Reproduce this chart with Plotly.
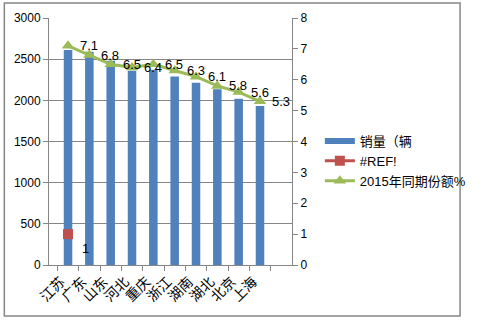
import plotly.graph_objects as go

# Provinces (x categories)
provinces = ["江苏", "广东", "山东", "河北", "重庆", "浙江", "湖南", "湖北", "北京", "上海"]
# Sales volume (left axis)
sales = [2610, 2590, 2480, 2360, 2370, 2290, 2215, 2135, 2020, 1930]
# Share in the same period of 2015, % (right axis)
share_2015 = [7.1, 6.8, 6.5, 6.4, 6.5, 6.3, 6.1, 5.8, 5.6, 5.3]
# Broken reference series: a single value on the right axis
ref_x = ["江苏"]
ref_values = [1]

BLUE = "#4F81BD"
RED = "#C0504D"
GREEN = "#9BBB59"
GRID = "#868686"
FONT = "Liberation Sans, Noto Sans CJK SC, sans-serif"

fig = go.Figure()

fig.add_trace(go.Bar(
    x=provinces, y=sales, name="销量（辆",
    marker=dict(color=BLUE, line=dict(width=0)),
    showlegend=False,
))
# legend entry for the bars, drawn as a wide band like the spreadsheet legend
fig.add_trace(go.Scatter(
    x=[None], y=[None], mode="lines", name="销量（辆",
    line=dict(color=BLUE, width=6),
))
fig.add_trace(go.Scatter(
    x=ref_x, y=ref_values, name="#REF!", yaxis="y2",
    mode="lines+markers",
    line=dict(color=RED, width=3),
    marker=dict(symbol="square", size=10, color=RED),
    cliponaxis=False,
))
fig.add_trace(go.Scatter(
    x=provinces, y=share_2015, name="2015年同期份额%", yaxis="y2",
    mode="lines+markers",
    line=dict(color=GREEN, width=3),
    marker=dict(symbol="triangle-up", size=11, color=GREEN),
    cliponaxis=False,
))

# data labels to the right of each point
annotations = []
for p, v in zip(provinces, share_2015):
    annotations.append(dict(
        x=p, y=v, xref="x", yref="y2", text=f"{v:.1f}", showarrow=False,
        xshift=21, yshift=0, font=dict(family=FONT, size=13, color="#000000"),
    ))
for p, v in zip(ref_x, ref_values):
    annotations.append(dict(
        x=p, y=v, xref="x", yref="y2", text=str(v), showarrow=False,
        xshift=17, yshift=-14, font=dict(family=FONT, size=13, color="#000000"),
    ))

L, R, T, B = 49, 181, 18, 57
W, H = 483, 322
pw, ph = W - L - R, H - T - B


def px_x(x):
    return (x - L) / pw


def px_y(y):
    return (H - B - y) / ph


fig.update_layout(
    width=W, height=H,
    margin=dict(l=L, r=R, t=T, b=B, pad=0),
    paper_bgcolor="white", plot_bgcolor="white",
    font=dict(family=FONT, size=12, color="#000000"),
    bargap=0.6,
    annotations=annotations,
    xaxis=dict(
        type="category", tickangle=-45,
        showline=True, linecolor=GRID, linewidth=1,
        ticks="outside", ticklen=5, tickcolor=GRID, tickson="boundaries",
        showgrid=False, tickfont=dict(size=14),
        ticklabelshift=-7, ticklabelstandoff=2,
    ),
    yaxis=dict(
        range=[0, 3000], dtick=500,
        showline=True, linecolor=GRID, linewidth=1,
        ticks="outside", ticklen=5, tickcolor=GRID,
        showgrid=True, gridcolor=GRID, gridwidth=1,
        zeroline=False, tickfont=dict(size=12),
    ),
    yaxis2=dict(
        range=[0, 8], dtick=1, overlaying="y", side="right",
        showline=True, linecolor=GRID, linewidth=1,
        ticks="outside", ticklen=5, tickcolor=GRID,
        showgrid=False, zeroline=False, tickfont=dict(size=12),
    ),
    legend=dict(
        x=px_x(331), y=px_y(126), xanchor="left", yanchor="top",
        font=dict(size=13), bgcolor="rgba(0,0,0,0)",
        itemwidth=30, tracegroupgap=0,
    ),
    shapes=[dict(
        type="rect", xref="paper", yref="paper",
        x0=px_x(2.5), x1=px_x(477), y0=px_y(316), y1=px_y(3),
        line=dict(color=GRID, width=1.5), layer="below",
    )],
)

fig.write_html("out.html")
